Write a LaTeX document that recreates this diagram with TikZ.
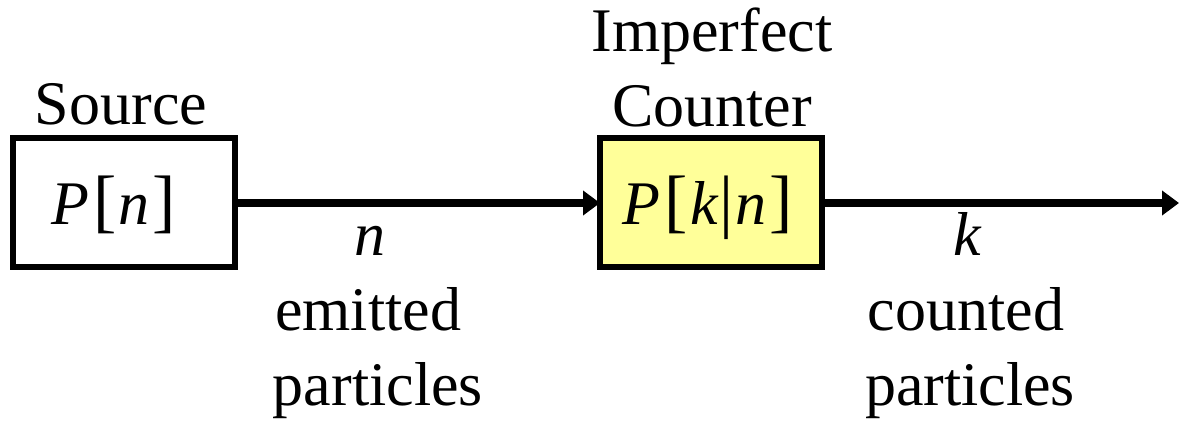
\documentclass[tikz,border=0pt]{standalone}
\usepackage{fontspec}
\setmainfont{Liberation Serif}
\usetikzlibrary{arrows.meta}
\definecolor{boxyellow}{RGB}{255,255,153}
\newcommand{\brk}[1]{{\fontsize{70}{80}\selectfont\upshape #1}}
\begin{document}
\begin{tikzpicture}[x=1pt,y=-1pt,
  every node/.style={inner sep=0pt,outer sep=0pt,font=\rmfamily\fontsize{62}{74}\selectfont},
  blockbox/.style={draw=black,line width=6pt,minimum width=222pt,minimum height=128pt},
  flow/.style={line width=8pt,-{Triangle[length=17pt,width=24pt]}},
  lbl/.style={anchor=base}]
\useasboundingbox (0,0) rectangle (1179,425);
\node[blockbox] (src) at (123.5,202.5) {};
\node[blockbox,fill=boxyellow] (cnt) at (711,202.5) {};
\node[lbl] (srcmath) at (114,225) {\itshape P\kern4pt\brk{[}\kern2pt\itshape n\kern3pt\brk{]}};
\node[lbl] (cntmath) at (708,225) {\itshape P\kern4pt\brk{[}\kern2pt\itshape k\kern2pt\brk{|}\kern2pt\itshape n\kern3pt\brk{]}};
\coordinate (out) at (1179,203);
\draw[flow] (src.east |- 0,203) -- (cnt.west |- 0,203);
\draw[flow] (cnt.east |- 0,203) -- (out);
\node[lbl] (srclab) at (121,125) {Source};
\node[lbl] (imp) at (712,52) {Imperfect};
\node[lbl] (ctr) at (712,127) {Counter};
\node[lbl] (nlab) at (370,255) {\itshape n};
\node[lbl] (em) at (368,330) {emitted};
\node[lbl] (pa1) at (378,405) {particles};
\node[lbl] (klab) at (967,255) {\itshape k};
\node[lbl] (co) at (966,330) {counted};
\node[lbl] (pa2) at (970,405) {particles};
\end{tikzpicture}
\end{document}
